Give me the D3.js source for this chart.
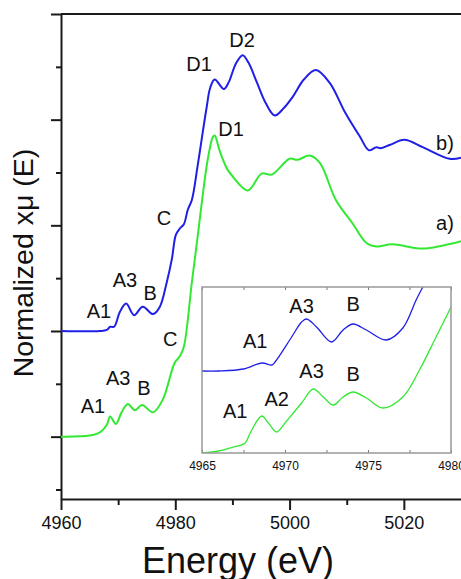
<!DOCTYPE html>
<html>
<head>
<meta charset="utf-8">
<script src="https://cdn.jsdelivr.net/npm/d3@7"></script>
<style>
  body { margin: 0; background: #fff; }
  svg { display: block; font-family: "Liberation Sans", Arial, sans-serif; }
</style>
</head>
<body>
<svg id="chart" width="461" height="579"></svg>
<script>
// main spectra (energy in eV, normalized absorption with offset)
const energyB = [4960, 4966.8, 4968.0, 4968.6, 4969.3, 4970.3, 4971.4, 4972.8, 4974.3, 4976.1, 4977.3, 4978.5, 4979.4, 4980.1, 4980.8, 4981.5, 4982.2, 4982.9, 4983.9, 4984.8, 4985.5, 4986.1, 4986.9, 4988.5, 4989.4, 4990.6, 4991.8, 4992.8, 4994.3, 4995.8, 4997.4, 4999.0, 5000.6, 5002.5, 5004.6, 5007.0, 5009.7, 5012.3, 5013.9, 5015.2, 5015.9, 5017.5, 5020.1, 5023.3, 5028.0, 5030];
const muB = [1.00, 1.00, 1.01, 1.04, 1.04, 1.18, 1.26, 1.15, 1.23, 1.16, 1.23, 1.46, 1.68, 1.91, 1.97, 2.01, 2.15, 2.24, 2.56, 2.88, 3.12, 3.30, 3.38, 3.29, 3.36, 3.53, 3.61, 3.54, 3.35, 3.16, 3.04, 3.11, 3.22, 3.38, 3.47, 3.35, 3.07, 2.84, 2.71, 2.74, 2.73, 2.76, 2.81, 2.74, 2.63, 2.64];

const energyA = [4960, 4965, 4966.8, 4968.0, 4968.6, 4969.6, 4970.6, 4971.7, 4972.9, 4974.2, 4976.1, 4977.8, 4979.9, 4980.8, 4981.5, 4982.9, 4984.0, 4984.7, 4985.7, 4986.6, 4986.9, 4987.8, 4989.0, 4989.5, 4992.7, 4995.1, 4996.9, 5000.0, 5001.4, 5003.5, 5005.3, 5008.1, 5011.0, 5013.5, 5015.2, 5018.0, 5023.3, 5030];
const muA = [0.00, 0.01, 0.04, 0.11, 0.19, 0.12, 0.23, 0.31, 0.25, 0.30, 0.23, 0.35, 0.70, 0.76, 0.85, 1.46, 1.93, 2.24, 2.63, 2.84, 2.85, 2.70, 2.54, 2.50, 2.33, 2.49, 2.48, 2.63, 2.62, 2.66, 2.59, 2.24, 2.02, 1.83, 1.80, 1.82, 1.78, 1.85];

// pre-edge zoom (inset)
const insetEnergyB = [4965, 4966, 4967.5, 4968.6, 4969.2, 4969.4, 4970.4, 4971.0, 4971.3, 4971.9, 4972.8, 4973.5, 4974.1, 4974.9, 4976.1, 4977.1, 4977.9, 4978.3, 4978.6];
const insetMuB = [0.41, 0.41, 0.42, 0.45, 0.44, 0.455, 0.58, 0.655, 0.67, 0.63, 0.555, 0.615, 0.645, 0.615, 0.565, 0.625, 0.765, 0.83, 0.88];

const insetEnergyA = [4965, 4966, 4966.9, 4967.6, 4967.9, 4968.6, 4969.0, 4969.5, 4970.0, 4970.5, 4971.0, 4971.7, 4972.3, 4972.9, 4973.5, 4974.1, 4974.9, 4975.9, 4977.1, 4978.1, 4979.1, 4980];
const insetMuA = [0.0, 0.01, 0.03, 0.05, 0.10, 0.185, 0.15, 0.105, 0.15, 0.20, 0.25, 0.32, 0.28, 0.24, 0.28, 0.305, 0.275, 0.225, 0.28, 0.415, 0.58, 0.73];

const xTicks = [4960, 4970, 4980, 4990, 5000, 5010, 5020];
const yTicks = [-0.5, 0, 0.5, 1, 1.5, 2, 2.5, 3, 3.5, 4];
const insetTicks = [4965, 4967.5, 4970, 4972.5, 4975, 4977.5, 4980];

// peak labels [text, energy, value, series]
const mainLabels = [
    ["A1", 4966.65, 1.12, "b"], ["A3", 4971.2, 1.42, "b"], ["B", 4975.6, 1.29, "b"],
    ["C", 4978.0, 2.00, "b"], ["D1", 4984.15, 3.46, "b"], ["D2", 4991.7, 3.69, "b"],
    ["b)", 5027.2, 2.71, "b"],
    ["A1", 4965.6, 0.22, "a"], ["A3", 4970.0, 0.49, "a"], ["B", 4974.5, 0.39, "a"],
    ["C", 4979.1, 0.86, "a"], ["D1", 4989.75, 2.85, "a"], ["a)", 5027.2, 1.96, "a"]
];
const insetLabels = [
    ["A1", 4968.2, 0.525], ["A3", 4971.0, 0.70], ["B", 4974.1, 0.71],
    ["A1", 4967.0, 0.175], ["A2", 4969.5, 0.235], ["A3", 4971.6, 0.375], ["B", 4974.1, 0.36]
];

const blue = "#1f1fe6";
const green = "#33e833";
const axisColor = "#1a1a1a";

const svg = d3.select("#chart");

const x = d3.scaleLinear().domain([4960, 5030]).range([61, 461]);
const y = d3.scaleLinear().domain([-0.59, 4]).range([499, 14]);

// top frame line
svg.append("line")
    .attr("x1", 61).attr("x2", 461).attr("y1", y(4)).attr("y2", y(4))
    .attr("stroke", axisColor).attr("stroke-width", 2);

// x axis
const xAxis = svg.append("g")
    .attr("transform", `translate(0,${y(-0.59)})`)
    .call(d3.axisBottom(x).tickValues(xTicks).tickSizeOuter(0)
        .tickFormat(d => d % 20 === 0 ? d : ""));
xAxis.select(".domain").attr("stroke", axisColor).attr("stroke-width", 2);
xAxis.selectAll(".tick line").attr("stroke", axisColor).attr("stroke-width", 2)
    .attr("y2", d => d % 20 === 0 ? 11 : 6);
xAxis.selectAll(".tick text").attr("fill", "#111").attr("font-size", 18)
    .attr("font-family", "Liberation Sans, Arial, sans-serif").attr("y", 17);

// y axis, no labels
const yAxis = svg.append("g")
    .attr("transform", `translate(61,0)`)
    .call(d3.axisLeft(y).tickValues(yTicks).tickSizeOuter(0).tickFormat(""));
yAxis.select(".domain").attr("stroke", axisColor).attr("stroke-width", 2);
yAxis.selectAll(".tick line").attr("stroke", axisColor).attr("stroke-width", 2)
    .attr("x2", d => Number.isInteger(d) ? -10 : -5);

const line = d3.line()
    .x((d, i) => x(d[0]))
    .y(d => y(d[1]))
    .curve(d3.curveCatmullRom.alpha(0.5));

svg.append("path").datum(d3.zip(energyB, muB))
    .attr("d", line).attr("fill", "none").attr("stroke", blue).attr("stroke-width", 2);
svg.append("path").datum(d3.zip(energyA, muA))
    .attr("d", line).attr("fill", "none").attr("stroke", green).attr("stroke-width", 2);

svg.append("g").selectAll("text").data(mainLabels).join("text")
    .attr("x", d => x(d[1])).attr("y", d => y(d[2]))
    .attr("text-anchor", "middle").attr("font-size", 20).attr("fill", "#111")
    .text(d => d[0]);

// axis titles
svg.append("text")
    .attr("x", 238).attr("y", 573).attr("text-anchor", "middle")
    .attr("font-size", 36).attr("fill", "#111")
    .text("Energy (eV)");
svg.append("text")
    .attr("transform", "translate(33,263) rotate(-90)")
    .attr("text-anchor", "middle").attr("font-size", 28.5).attr("fill", "#111")
    .text("Normalized xμ (E)");

// inset
const ix = d3.scaleLinear().domain([4965, 4980]).range([202, 451]);
const iy = d3.scaleLinear().domain([0, 0.83]).range([453, 287]);

const inset = svg.append("g");
inset.append("rect")
    .attr("x", ix(4965)).attr("y", iy(0.83))
    .attr("width", ix(4980) - ix(4965)).attr("height", iy(0) - iy(0.83))
    .attr("fill", "#fff");

svg.append("defs").append("clipPath").attr("id", "insetClip")
    .append("rect")
    .attr("x", ix(4965)).attr("y", iy(0.83))
    .attr("width", ix(4980) - ix(4965)).attr("height", iy(0) - iy(0.83));

const iline = d3.line()
    .x(d => ix(d[0]))
    .y(d => iy(d[1]))
    .curve(d3.curveCatmullRom.alpha(0.5));

const curves = inset.append("g").attr("clip-path", "url(#insetClip)");
curves.append("path").datum(d3.zip(insetEnergyB, insetMuB))
    .attr("d", iline).attr("fill", "none").attr("stroke", blue).attr("stroke-width", 1.3);
curves.append("path").datum(d3.zip(insetEnergyA, insetMuA))
    .attr("d", iline).attr("fill", "none").attr("stroke", green).attr("stroke-width", 1.3);

const ixBottom = inset.append("g")
    .attr("transform", `translate(0,${iy(0)})`)
    .call(d3.axisBottom(ix).tickValues(insetTicks).tickSizeOuter(0).tickSizeInner(-3)
        .tickFormat(d => d % 5 === 0 ? d : ""));
ixBottom.select(".domain").remove();
ixBottom.selectAll(".tick line").attr("stroke", "#777");
ixBottom.selectAll(".tick text").attr("fill", "#111").attr("font-size", 12)
    .attr("font-family", "Liberation Sans, Arial, sans-serif").attr("y", 8);

const ixTop = inset.append("g")
    .attr("transform", `translate(0,${iy(0.83)})`)
    .call(d3.axisTop(ix).tickValues(insetTicks).tickSizeOuter(0).tickSizeInner(-3).tickFormat(""));
ixTop.select(".domain").remove();
ixTop.selectAll(".tick line").attr("stroke", "#777");

inset.append("rect")
    .attr("x", ix(4965)).attr("y", iy(0.83))
    .attr("width", ix(4980) - ix(4965)).attr("height", iy(0) - iy(0.83))
    .attr("fill", "none").attr("stroke", "#999").attr("stroke-width", 1.5);

inset.append("g").selectAll("text").data(insetLabels).join("text")
    .attr("x", d => ix(d[1])).attr("y", d => iy(d[2]))
    .attr("text-anchor", "middle").attr("font-size", 20).attr("fill", "#111")
    .text(d => d[0]);
</script>
</body>
</html>
